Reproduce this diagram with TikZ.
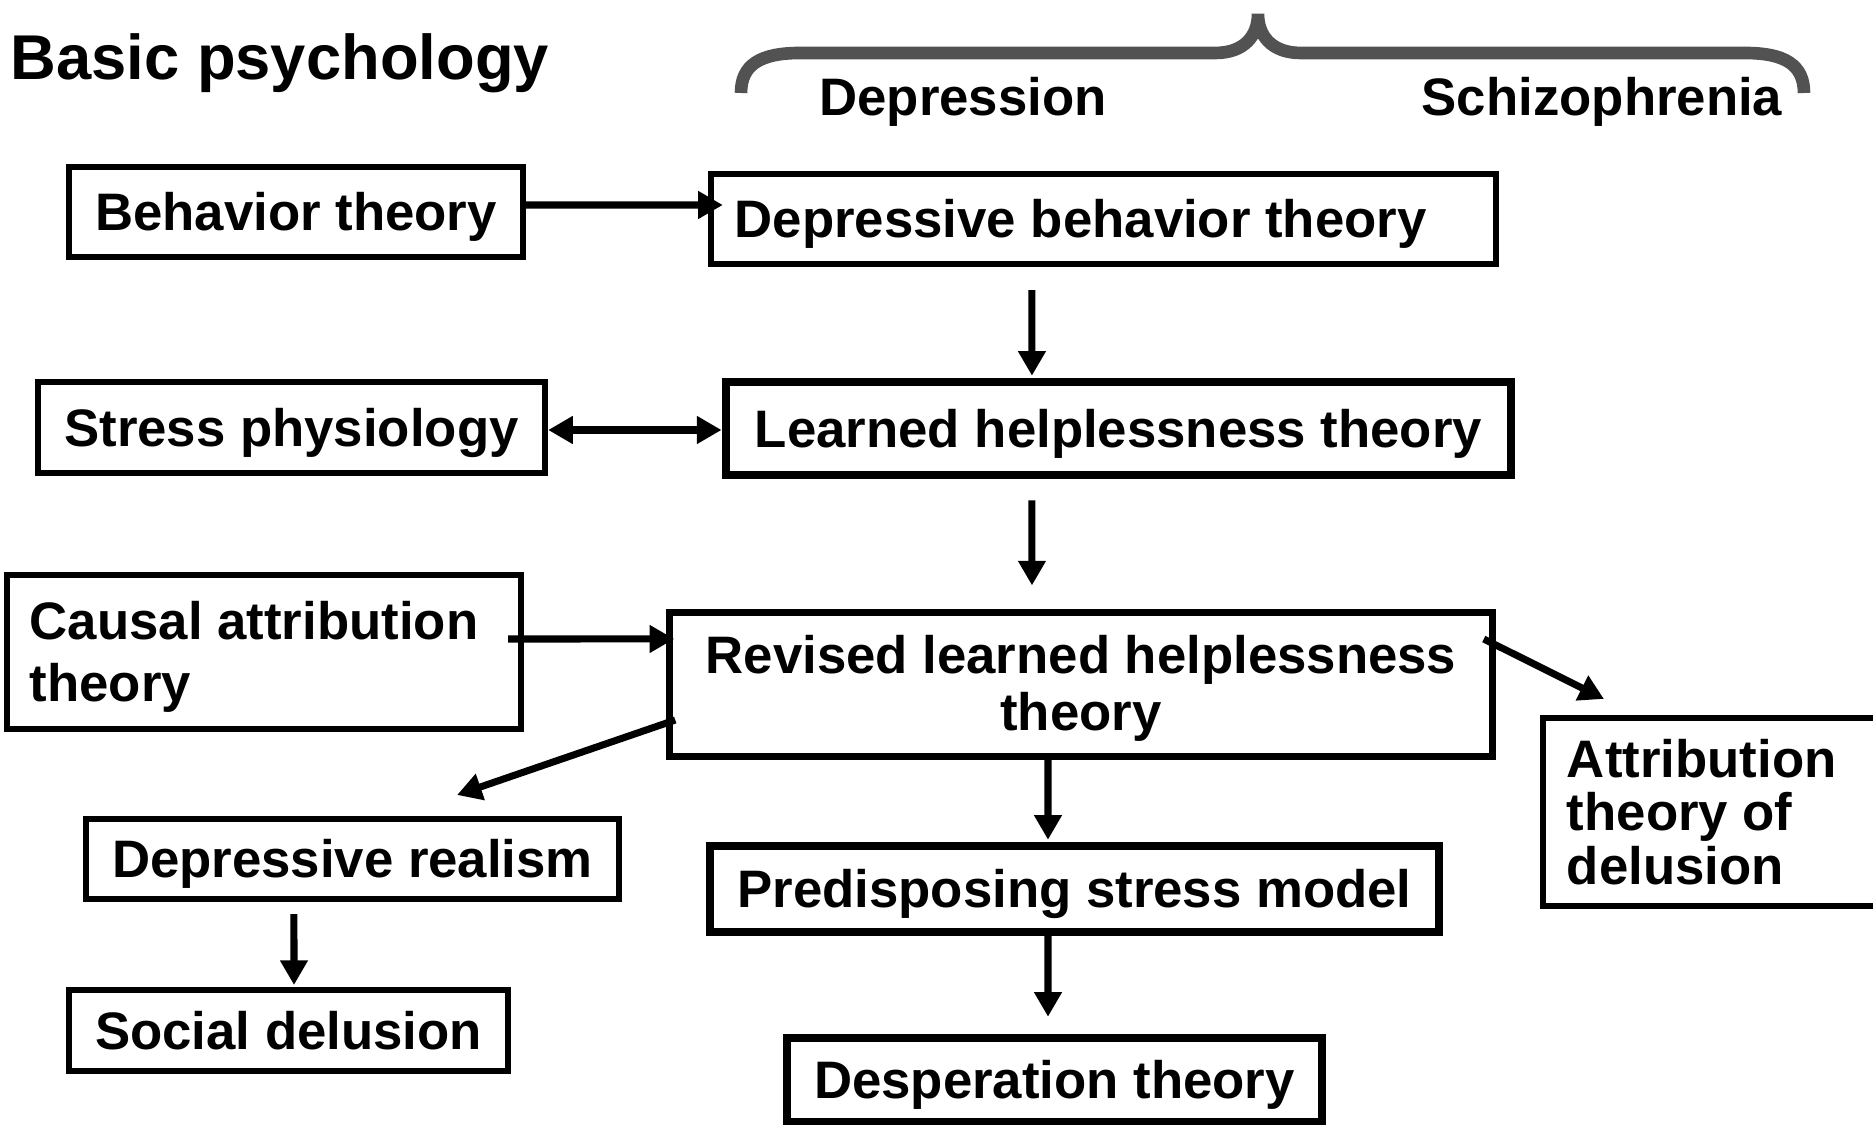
\documentclass[tikz,border=0pt]{standalone}
\usepackage{fontspec}
\setmainfont{Liberation Sans}
\usetikzlibrary{arrows.meta}

\begin{document}
\begin{tikzpicture}[x=0.01cm,y=-0.01cm]

\tikzset{
     theory/.style={
  	 	rectangle,
  	 	draw=black,
  	 	line width=1.7pt,
  	 	inner sep=0pt,
  	 	text height=0.4cm,
  	 	text depth=0.03cm,
  	 	font=\fontsize{15}{17.6}\selectfont\bfseries
     }
}

\tikzset{
	mainline/.style={
		theory,
		line width=2.4pt
	}
}

\tikzset{
	link/.style={
		line width=2pt,
		-{Triangle[length=7pt,width=7.5pt]}
	}
}

\def\bracecol{black!68}

\useasboundingbox (0,0) rectangle (1873,1125);

% headings
\node[anchor=base west, inner sep=0pt, font=\fontsize{18}{21}\selectfont\bfseries] (title) at (10,80) {Basic psychology};
\draw[\bracecol, line width=3.6pt] (741,93) .. controls (741,65) and (760,53) .. (800,53) -- (1215,53)
	.. controls (1245,53) and (1258,35) .. (1258,14)
	.. controls (1258,35) and (1271,53) .. (1301,53) -- (1745,53)
	.. controls (1785,53) and (1804,65) .. (1804,93);
\node[anchor=base, inner sep=0pt, font=\fontsize{15}{17.6}\selectfont\bfseries] (depression) at (963,116) {Depression};
\node[anchor=base, inner sep=0pt, font=\fontsize{15}{17.6}\selectfont\bfseries] (schizo) at (1602,116) {Schizophrenia};

% left column
\node[theory, minimum width=4.54cm, minimum height=0.9cm] (behav) at (296,212) {Behavior theory};
\node[theory, minimum width=5.07cm, minimum height=0.91cm] (stress) at (291.5,427.5) {Stress physiology};
\node[theory, text width=4.68cm, inner xsep=0.23cm, minimum height=1.54cm, align=flush left,
	text height={}, text depth=17.9pt] (causal) at (264,652) {Causal attribution\\theory};
\node[theory, minimum width=5.33cm, minimum height=0.8cm] (realism) at (352.5,859) {Depressive realism};
\node[theory, minimum width=4.39cm, minimum height=0.81cm] (social) at (288.5,1030.5) {Social delusion};

% middle column
\node[theory, text width=7.37cm, inner xsep=0.24cm, minimum height=0.9cm, align=flush left] (dbt) at (1103.5,219) {Depressive behavior theory};
\node[mainline, minimum width=7.85cm, minimum height=0.93cm] (lht) at (1118.5,428.5) {Learned helplessness theory};
\node[theory, line width=2pt, text width=7.82cm, inner xsep=0.2cm, minimum height=1.43cm, align=flush center,
	text height={}, text depth=16.9pt,
	font=\fontsize{15}{16}\selectfont\bfseries] (rlht) at (1081,684.5) {Revised learned helplessness\\theory};
\node[mainline, minimum width=7.29cm, minimum height=0.86cm] (predis) at (1074.5,889) {Predisposing stress model};
\node[mainline, minimum width=5.35cm, minimum height=0.84cm] (desp) at (1054.5,1080) {Desperation theory};

% right column
\node[theory, text width=2.92cm, inner xsep=0.24cm, minimum height=1.88cm, align=flush left,
	text height={}, text depth={},
	font=\fontsize{15}{15.2}\selectfont\bfseries] (attr) at (1713,812) {Attribution\\theory of\\delusion};

% links
\draw[link] ([yshift=0.07cm]behav.east) -- ([xshift=0.15cm,yshift=0.14cm]dbt.west);
\draw[link] ([xshift=-0.715cm,yshift=-0.23cm]dbt.south) -- ([xshift=-0.865cm,yshift=0.02cm]lht.north);
\draw[link, {Triangle[length=7pt,width=7.5pt]}-{Triangle[length=7pt,width=7.5pt]}] ([yshift=-0.025cm]stress.east) -- ([yshift=-0.015cm]lht.west);
\draw[link] ([xshift=-0.865cm,yshift=-0.21cm]lht.south) -- ([xshift=-0.49cm,yshift=0.24cm]rlht.north);
\draw[link] ([xshift=-0.16cm,yshift=0.13cm]causal.east) -- ([xshift=0.08cm,yshift=0.455cm]rlht.west);
\draw[link] ([xshift=0.09cm,yshift=-0.355cm]rlht.west) -- ([xshift=1.045cm,yshift=0.21cm]realism.north);
\draw[link] ([xshift=-0.12cm,yshift=0.455cm]rlht.east) -- ([xshift=0.64cm,yshift=0.16cm]attr.north west);
\draw[link] ([xshift=-0.33cm,yshift=0.03cm]rlht.south) -- ([xshift=-0.265cm,yshift=0.02cm]predis.north);
\draw[link] ([xshift=-0.265cm]predis.south) -- ([xshift=-0.065cm,yshift=0.17cm]desp.north);
\draw[link] ([xshift=-0.585cm,yshift=-0.12cm]realism.south) -- ([xshift=0.055cm,yshift=0.02cm]social.north);

\end{tikzpicture}
\end{document}
